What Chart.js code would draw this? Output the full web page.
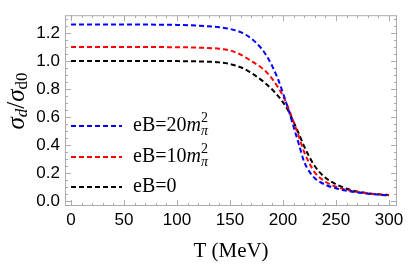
<!DOCTYPE html>
<html>
<head>
<meta charset="utf-8">
<script src="https://cdn.jsdelivr.net/npm/chart.js@4.4.1/dist/chart.umd.min.js"></script>
<style>
  html, body { margin: 0; padding: 0; background: #fff; }
  #wrap { width: 409px; height: 266px; }
</style>
</head>
<body>
<div id="wrap"><canvas id="chart"></canvas></div>
<script>
// temperature grid (MeV)
const temps = [0, 25, 50, 75, 100, 120, 140, 150, 160, 170, 180, 185, 190, 195, 200, 205, 210, 215, 220, 225, 230, 240, 250, 260, 270, 280, 290, 300];
// sigma_d / sigma_d0
const ratioB20 = [1.26, 1.26, 1.26, 1.259, 1.257, 1.252, 1.24, 1.228, 1.205, 1.16, 1.085, 1.03, 0.96, 0.875, 0.77, 0.655, 0.53, 0.405, 0.28, 0.21, 0.165, 0.118, 0.093, 0.076, 0.064, 0.055, 0.048, 0.042];
const ratioB10 = [1.10, 1.10, 1.10, 1.099, 1.098, 1.095, 1.087, 1.075, 1.045, 1.0, 0.95, 0.915, 0.87, 0.815, 0.75, 0.665, 0.565, 0.46, 0.35, 0.27, 0.205, 0.14, 0.104, 0.082, 0.067, 0.057, 0.049, 0.043];
const ratioB0 = [1.0, 1.0, 1.0, 1.0, 0.999, 0.997, 0.99, 0.978, 0.955, 0.915, 0.862, 0.83, 0.795, 0.753, 0.705, 0.645, 0.565, 0.48, 0.39, 0.315, 0.25, 0.168, 0.122, 0.09, 0.07, 0.058, 0.05, 0.045];
const seriesLabels = ['eB=20m_π^2', 'eB=10m_π^2', 'eB=0'];
const seriesColors = ['#0000ff', '#ff0000', '#000000'];
const xTicks = [0, 50, 100, 150, 200, 250, 300];
const yTicks = [0, 0.2, 0.4, 0.6, 0.8, 1.0, 1.2];

const serif = '"Liberation Serif", "Times New Roman", serif';
const sans = '"Liberation Sans", Arial, sans-serif';

function pts(vals) {
  return temps.map((t, i) => ({ x: t, y: vals[i] }));
}

// draw a run of text pieces: [text, kind], kind = r | i | sub | isub | subsup
function drawParts(ctx, x, y, parts, size, measureOnly) {
  const small = Math.round(size * 0.68);
  let cx = x;
  parts.forEach(p => {
    const txt = p[0], kind = p[1];
    if (kind === 'r' || kind === 'i') {
      ctx.font = (kind === 'i' ? 'italic ' : '') + size + 'px ' + serif;
      if (!measureOnly) ctx.fillText(txt, cx, y);
      cx += ctx.measureText(txt).width;
    } else if (kind === 'sub' || kind === 'isub') {
      ctx.font = (kind === 'isub' ? 'italic ' : '') + small + 'px ' + serif;
      if (!measureOnly) ctx.fillText(txt, cx, y + size * 0.22);
      cx += ctx.measureText(txt).width;
    } else if (kind === 'subsup') {
      ctx.font = 'italic ' + small + 'px ' + serif;
      const w1 = ctx.measureText(txt[0]).width;
      if (!measureOnly) ctx.fillText(txt[0], cx, y + size * 0.25);
      ctx.font = small + 'px ' + serif;
      const w2 = ctx.measureText(txt[1]).width;
      if (!measureOnly) ctx.fillText(txt[1], cx, y - size * 0.38);
      cx += Math.max(w1, w2);
    }
  });
  return cx - x;
}

function labelParts(label) {
  if (label.indexOf('m_π^2') >= 0) {
    return [[label.replace('m_π^2', ''), 'r'], ['m', 'i'], [['π', '2'], 'subsup']];
  }
  return [[label, 'r']];
}

const framePlugin = {
  id: 'frame',
  afterDraw(chart) {
    const { ctx, chartArea: a, scales } = chart;
    ctx.save();
    // frame and inward ticks
    ctx.strokeStyle = '#ababab';
    ctx.lineWidth = 1;
    ctx.strokeRect(a.left + 0.5, a.top + 0.5, a.right - a.left - 1, a.bottom - a.top - 1);
    ctx.beginPath();
    for (let v = 0; v <= 300; v += 10) {
      const px = Math.round(scales.x.getPixelForValue(v)) + 0.5;
      const len = v % 50 === 0 ? 6 : 3;
      ctx.moveTo(px, a.bottom); ctx.lineTo(px, a.bottom - len);
      ctx.moveTo(px, a.top); ctx.lineTo(px, a.top + len);
    }
    for (let k = 0; k <= 26; k++) {
      const v = k * 0.05;
      const py = Math.round(scales.y.getPixelForValue(v)) + 0.5;
      const len = k % 4 === 0 ? 6 : 3;
      ctx.moveTo(a.left, py); ctx.lineTo(a.left + len, py);
      ctx.moveTo(a.right, py); ctx.lineTo(a.right - len, py);
    }
    ctx.stroke();

    // legend
    ctx.textBaseline = 'middle';
    ctx.fillStyle = '#000';
    const rows = [126, 157, 187];
    chart.data.datasets.forEach((ds, i) => {
      const y = rows[i];
      ctx.strokeStyle = ds.borderColor;
      ctx.lineWidth = ds.borderWidth;
      ctx.setLineDash(ds.borderDash);
      ctx.beginPath();
      ctx.moveTo(71, y); ctx.lineTo(122, y);
      ctx.stroke();
      ctx.setLineDash([]);
      ctx.fillStyle = '#000';
      drawParts(ctx, 133, y, labelParts(ds.label), 20);
    });

    // y axis title, rotated
    const yParts = [['σ', 'i'], ['d', 'isub'], ['/', 'r'], ['σ', 'i'], ['d0', 'sub']];
    ctx.translate(17, 101);
    ctx.rotate(-Math.PI / 2);
    const w = drawParts(ctx, 0, 0, yParts, 25, true);
    drawParts(ctx, -w / 2, 0, yParts, 25);
    ctx.restore();
  }
};

new Chart(document.getElementById('chart'), {
  type: 'line',
  data: {
    datasets: [
      { label: seriesLabels[0], data: pts(ratioB20), borderColor: seriesColors[0] },
      { label: seriesLabels[1], data: pts(ratioB10), borderColor: seriesColors[1] },
      { label: seriesLabels[2], data: pts(ratioB0), borderColor: seriesColors[2] }
    ].map(d => Object.assign(d, {
      borderWidth: 2,
      borderDash: [5, 3],
      pointRadius: 0,
      fill: false,
      cubicInterpolationMode: 'monotone'
    }))
  },
  options: {
    responsive: true,
    maintainAspectRatio: false,
    animation: false,
    layout: { padding: { top: 1, right: 12, left: 0, bottom: 0 } },
    plugins: { legend: { display: false }, tooltip: { enabled: false } },
    scales: {
      x: {
        type: 'linear',
        min: -5.7,
        max: 307.5,
        grid: { display: false, drawTicks: false },
        border: { display: false },
        afterBuildTicks: s => { s.ticks = xTicks.map(v => ({ value: v })); },
        afterFit: s => { s.height = 60; },
        ticks: { color: '#000', padding: 4, maxRotation: 0, font: { family: sans, size: 17 } },
        title: { display: true, text: 'T (MeV)', color: '#000', padding: { top: 0, bottom: 2 }, font: { family: serif, size: 21 } }
      },
      y: {
        min: -0.033,
        max: 1.326,
        grid: { display: false, drawTicks: false },
        border: { display: false },
        afterBuildTicks: s => { s.ticks = yTicks.map(v => ({ value: v })); },
        afterFit: s => { s.width = 65; },
        ticks: { color: '#000', padding: 5, font: { family: sans, size: 17 }, callback: v => v.toFixed(1) }
      }
    }
  },
  plugins: [framePlugin]
});
</script>
</body>
</html>
